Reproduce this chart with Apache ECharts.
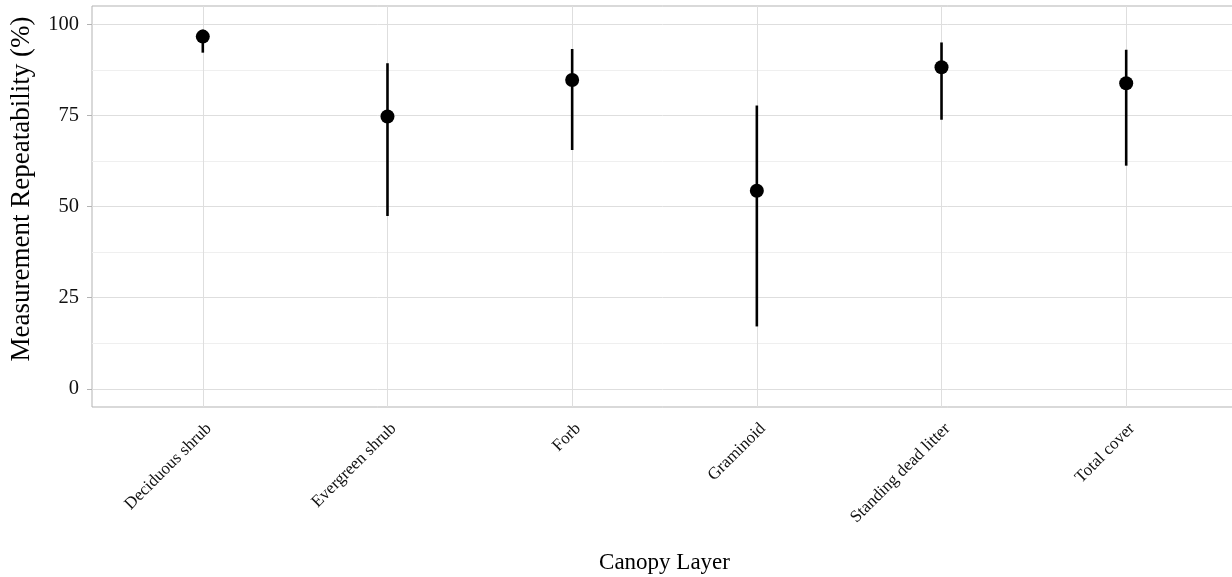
<!DOCTYPE html>
<html>
<head>
<meta charset="utf-8">
<script src="https://cdn.jsdelivr.net/npm/echarts@6/dist/echarts.min.js"></script>
<style>
  html, body { margin: 0; padding: 0; background: #fff; }
  #chart { width: 1232px; height: 577px; }
</style>
</head>
<body>
<div id="chart"></div>
<script>
// Canopy layers and repeatability estimates with their interval bounds (%)
const categories = ['Deciduous shrub', 'Evergreen shrub', 'Forb', 'Graminoid', 'Standing dead litter', 'Total cover'];
const estimate = [96.6, 74.7, 84.7, 54.3, 88.2, 83.8];
const lower = [92.2, 47.4, 65.5, 17.1, 73.8, 61.2];
const upper = [98.5, 89.3, 93.2, 77.7, 95.0, 93.0];
const yTicks = [0, 25, 50, 75, 100];
const yMinor = [12.5, 37.5, 62.5, 87.5];

const positions = categories.map((_, i) => i + 1);
const serif = '"Liberation Serif", "DejaVu Serif", serif';

const chart = echarts.init(document.getElementById('chart'), null, { renderer: 'canvas' });

const gridLine = (v, color) => ({ yAxis: v, lineStyle: { color: color, width: 1, type: 'solid' } });

chart.setOption({
  animation: false,
  backgroundColor: '#ffffff',
  grid: {
    left: 92, right: -5, top: 6, bottom: 170,
    outerBoundsMode: 'none',
    containLabel: false,
    show: true, borderColor: '#b3b3b3', borderWidth: 1, backgroundColor: 'transparent'
  },
  graphic: [{
    // y-axis title, reading bottom to top
    type: 'text',
    rotation: Math.PI / 2,
    x: 8, y: 189,
    style: {
      text: 'Measurement Repeatability (%)',
      font: '27px ' + serif,
      fill: '#000',
      textAlign: 'center',
      textVerticalAlign: 'top'
    }
  }],
  xAxis: {
    type: 'value',
    min: 0.4, max: 6.6,
    name: 'Canopy Layer',
    nameLocation: 'middle',
    nameGap: 144,
    nameTextStyle: { fontFamily: serif, fontSize: 23, color: '#000' },
    axisLine: { show: false },
    splitLine: { show: false },
    axisTick: { show: true, length: 5, customValues: positions, lineStyle: { color: '#b3b3b3', width: 1 } },
    axisLabel: {
      customValues: positions,
      rotate: 45,
      margin: 13,
      verticalAlign: 'top',
      fontFamily: serif, fontSize: 17, color: '#111',
      formatter: (v) => categories[Math.round(v) - 1] || ''
    }
  },
  yAxis: {
    type: 'value',
    min: -5, max: 105,
    axisLine: { show: false },
    splitLine: { show: false },
    axisTick: { show: true, length: 5, customValues: yTicks, lineStyle: { color: '#b3b3b3', width: 1 } },
    axisLabel: {
      customValues: yTicks,
      margin: 13,
      fontFamily: serif, fontSize: 20.5, color: '#111'
    }
  },
  series: [
    {
      // panel grid lines
      type: 'line',
      data: [],
      silent: true,
      z: 1,
      markLine: {
        silent: true,
        z: 1,
        symbol: 'none',
        label: { show: false },
        animation: false,
        data: [
          ...yMinor.map(v => gridLine(v, '#efefef')),
          ...yTicks.map(v => gridLine(v, '#dedede')),
          ...positions.map(p => ({ xAxis: p, lineStyle: { color: '#dedede', width: 1, type: 'solid' } }))
        ]
      }
    },
    {
      // interval bars
      type: 'custom',
      data: positions.map((p, i) => [p, lower[i], upper[i]]),
      renderItem: (params, api) => {
        const a = api.coord([api.value(0), api.value(1)]);
        const b = api.coord([api.value(0), api.value(2)]);
        return {
          type: 'line',
          shape: { x1: a[0], y1: a[1], x2: b[0], y2: b[1] },
          style: { stroke: '#000', lineWidth: 2.6 }
        };
      },
      z: 10
    },
    {
      type: 'scatter',
      data: positions.map((p, i) => [p, estimate[i]]),
      symbol: 'circle',
      symbolSize: 14,
      itemStyle: { color: '#000', opacity: 1 },
      z: 11
    }
  ]
});
</script>
</body>
</html>
